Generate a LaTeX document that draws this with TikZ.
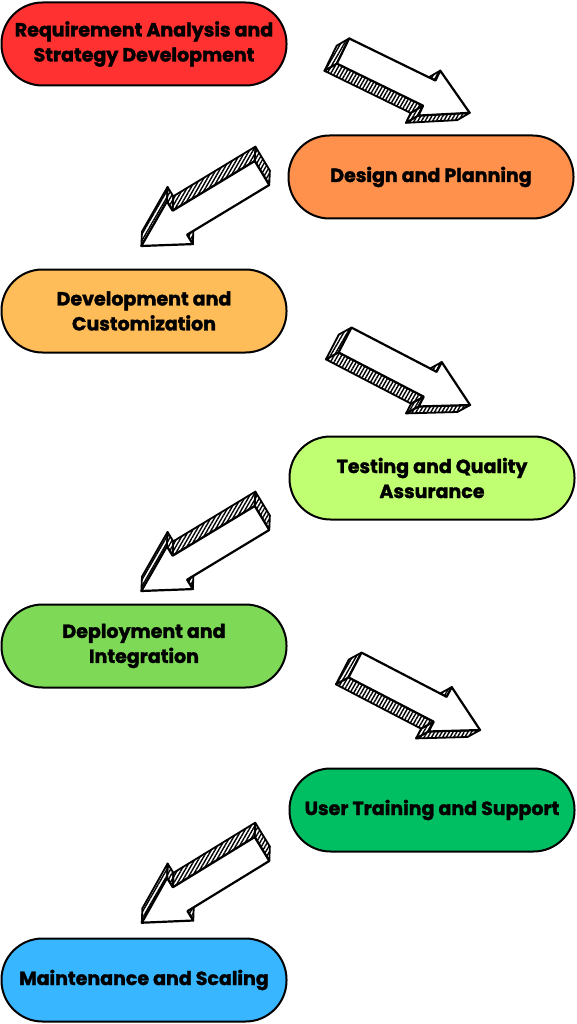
\documentclass[tikz,border=0pt]{standalone}
\usepackage{fontspec}
\setmainfont{Poppins}[BoldFeatures={FakeBold=1.6}]
\usetikzlibrary{patterns.meta}
\definecolor{reqred}{HTML}{FF3131}
\definecolor{designorange}{HTML}{FF914D}
\definecolor{devorange}{HTML}{FFBD59}
\definecolor{testgreen}{HTML}{C1FF72}
\definecolor{deploygreen}{HTML}{7ED957}
\definecolor{supportgreen}{HTML}{00BF63}
\definecolor{maintblue}{HTML}{38B6FF}

\tikzset{
  stage/.style={draw=black,line width=2pt,rounded corners=41pt,minimum width=285pt,
    minimum height=83pt,inner sep=0pt,align=center,
    font=\fontsize{19}{25}\selectfont\bfseries},
  sidehatch/.style={draw=black,line width=1.8pt,line join=round,
    pattern={Lines[angle=60,distance=3.2pt,line width=1.4pt]}},
  frontface/.style={draw=black,fill=white,line width=2.2pt,line join=round}
}

% 3d sketch arrow from tail #1 towards tip #2
\newcommand\sketcharrow[2]{%
  \pgfmathanglebetweenpoints{\pgfpointanchor{#1}{center}}{\pgfpointanchor{#2}{center}}%
  \let\arrowang\pgfmathresult
  \begin{scope}[shift={(#1)},rotate=\arrowang]
    \foreach \ax/\ay/\bx/\by in {96/14/96/25, 141/0/96/-25, 96/-25/96/-14, 96/-14/0/-14, 0/-14/0/14}
      \filldraw[sidehatch] (\ax,\ay) -- (\bx,\by) -- (\bx-8,\by-12) -- (\ax-8,\ay-12) -- cycle;
    \filldraw[frontface] (0,14) -- (96,14) -- (96,25) -- (141,0) -- (96,-25) -- (96,-14) -- (0,-14) -- cycle;
  \end{scope}}

\begin{document}
\begin{tikzpicture}[x=1pt,y=1pt]
  \useasboundingbox (0,0) rectangle (576,-1024);
  % stages
  \node[stage,fill=reqred] (req) at (144,-44) {Requirement Analysis and\\Strategy Development};
  \node[stage,fill=designorange] (design) at (431,-177) {Design and Planning};
  \node[stage,fill=devorange] (dev) at (144,-311) {Development and\\Customization};
  \node[stage,fill=testgreen] (test) at (432,-478) {Testing and Quality\\Assurance};
  \node[stage,fill=deploygreen] (deploy) at (144,-646) {Deployment and\\Integration};
  \node[stage,fill=supportgreen] (support) at (432,-810) {User Training and Support};
  \node[stage,fill=maintblue] (maint) at (144,-980) {Maintenance and Scaling};
  % arrow ends
  \coordinate (a1s) at (343,-51);  \coordinate (a1e) at (470,-113);
  \coordinate (a2s) at (262,-173); \coordinate (a2e) at (143,-245);
  \coordinate (a3s) at (345,-340); \coordinate (a3e) at (470,-405);
  \coordinate (a4s) at (262,-518); \coordinate (a4e) at (143,-590);
  \coordinate (a5s) at (355,-665); \coordinate (a5e) at (480,-730);
  \coordinate (a6s) at (262,-849); \coordinate (a6e) at (143,-922);
  % arrows
  \sketcharrow{a1s}{a1e}
  \sketcharrow{a2s}{a2e}
  \sketcharrow{a3s}{a3e}
  \sketcharrow{a4s}{a4e}
  \sketcharrow{a5s}{a5e}
  \sketcharrow{a6s}{a6e}
\end{tikzpicture}
\end{document}
